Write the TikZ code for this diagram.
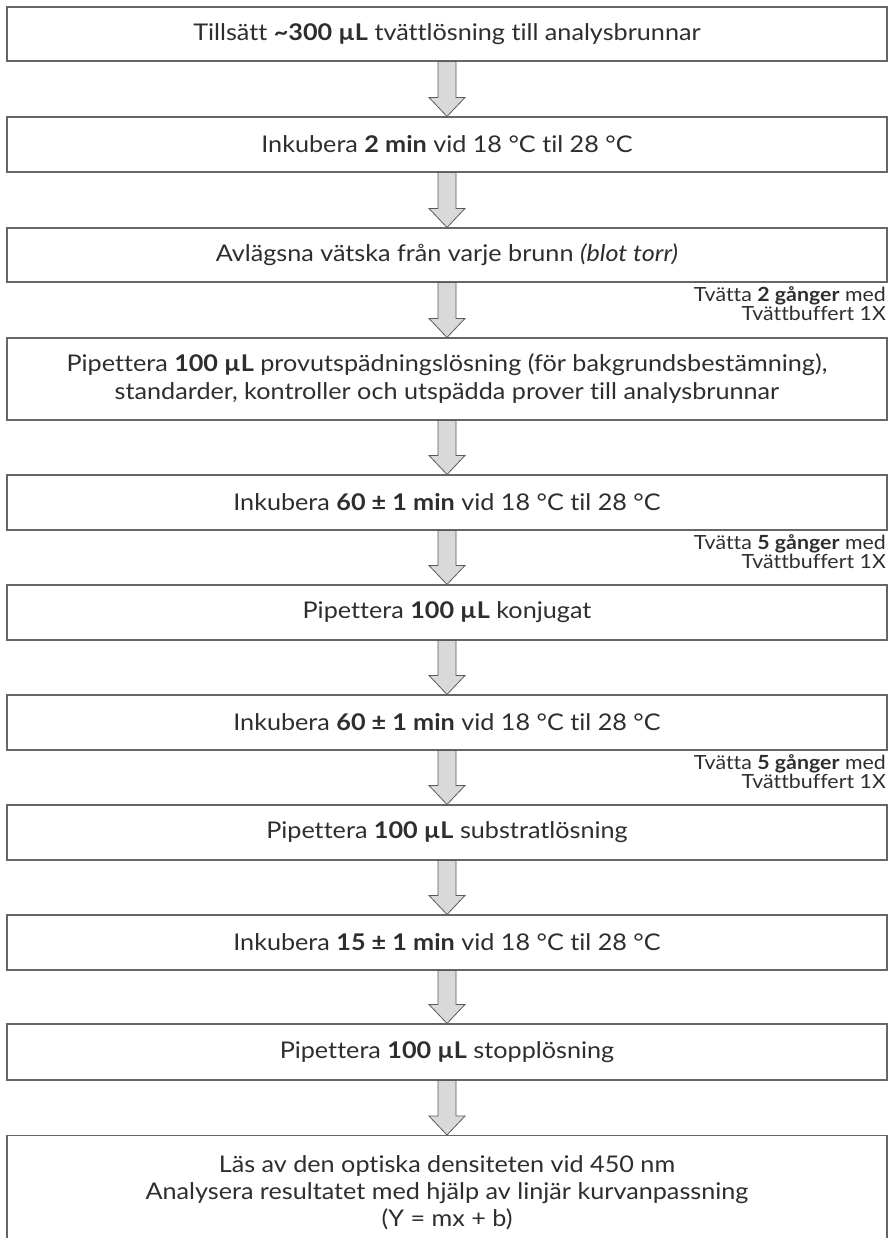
\documentclass[tikz,border=0pt]{standalone}
\usepackage{fontspec}
\setmainfont{Lato}[Ligatures=NoCommon, FakeStretch=1.095]
\usetikzlibrary{calc}
\definecolor{boxline}{HTML}{666666}
\definecolor{txt}{HTML}{2E2E2E}
\definecolor{arrfill}{HTML}{D9D9D9}
\definecolor{arrline}{HTML}{5A5A5A}
\tikzset{
  stepbox/.style={draw=boxline, line width=1.1pt, minimum width=880pt, minimum height=55pt,
    align=center, inner sep=0pt, text=txt, font=\fontsize{23}{28}\selectfont},
  note/.style={align=right, inner sep=0pt, text=txt, font=\fontsize{19.5}{17.5}\selectfont},
  garrow/.style={draw=arrline, fill=arrfill, line width=0.8pt, line join=miter}
}
\newcommand\flowarrow[2]{%
  \draw[garrow] ($(#1.south)+(-9,0)$) -- ($(#2.north)+(-9,-19)$) -- ++(-9,0) -- (#2.north)
    -- ++(18,-19) -- ++(-9,0) -- ($(#1.south)+(9,0)$) -- cycle;}
\begin{document}
\begin{tikzpicture}[x=1pt,y=-1pt]
\useasboundingbox (0,0) rectangle (889,1238);
\clip (0,0) rectangle (889,1238);
\fill[white] (0,0) rectangle (889,1238);
\node[stepbox, minimum height=54pt] (b1) at (447,34) {Tillsätt \textbf{\textasciitilde 300 µL} tvättlösning till analysbrunnar};
\node[stepbox] (b2) at (447,144.5) {Inkubera \textbf{2 min} vid 18 °C til 28 °C};
\node[stepbox, minimum height=54pt] (b3) at (447,255) {Avlägsna vätska från varje brunn \textit{(blot torr)}};
\node[stepbox, minimum height=82pt] (b4) at (447,379) {Pipettera \textbf{100 µL} provutspädningslösning (för bakgrundsbestämning),\\standarder, kontroller och utspädda prover till analysbrunnar};
\node[stepbox] (b5) at (447,502.5) {Inkubera \textbf{60 ± 1 min} vid 18 °C til 28 °C};
\node[stepbox] (b6) at (447,612.5) {Pipettera \textbf{100 µL} konjugat};
\node[stepbox] (b7) at (447,722.5) {Inkubera \textbf{60 ± 1 min} vid 18 °C til 28 °C};
\node[stepbox] (b8) at (447,832.5) {Pipettera \textbf{100 µL} substratlösning};
\node[stepbox] (b9) at (447,942.5) {Inkubera \textbf{15 ± 1 min} vid 18 °C til 28 °C};
\node[stepbox, minimum height=56pt] (b10) at (447,1052) {Pipettera \textbf{100 µL} stopplösning};
\node[stepbox, minimum height=114pt, anchor=north, font=\fontsize{23}{27}\selectfont] (b11) at (447,1135) {Läs av den optiska densiteten vid 450 nm\\Analysera resultatet med hjälp av linjär kurvanpassning\\(Y = mx + b)};
\flowarrow{b1}{b2}
\flowarrow{b2}{b3}
\flowarrow{b3}{b4}
\flowarrow{b4}{b5}
\flowarrow{b5}{b6}
\flowarrow{b6}{b7}
\flowarrow{b7}{b8}
\flowarrow{b8}{b9}
\flowarrow{b9}{b10}
\flowarrow{b10}{b11}
\node[note, anchor=north east] (n1) at (886,286) {Tvätta \textbf{2 gånger} med\\Tvättbuffert 1X};
\node[note, anchor=north east] (n2) at (886,534) {Tvätta \textbf{5 gånger} med\\Tvättbuffert 1X};
\node[note, anchor=north east] (n3) at (886,754) {Tvätta \textbf{5 gånger} med\\Tvättbuffert 1X};
\end{tikzpicture}
\end{document}
